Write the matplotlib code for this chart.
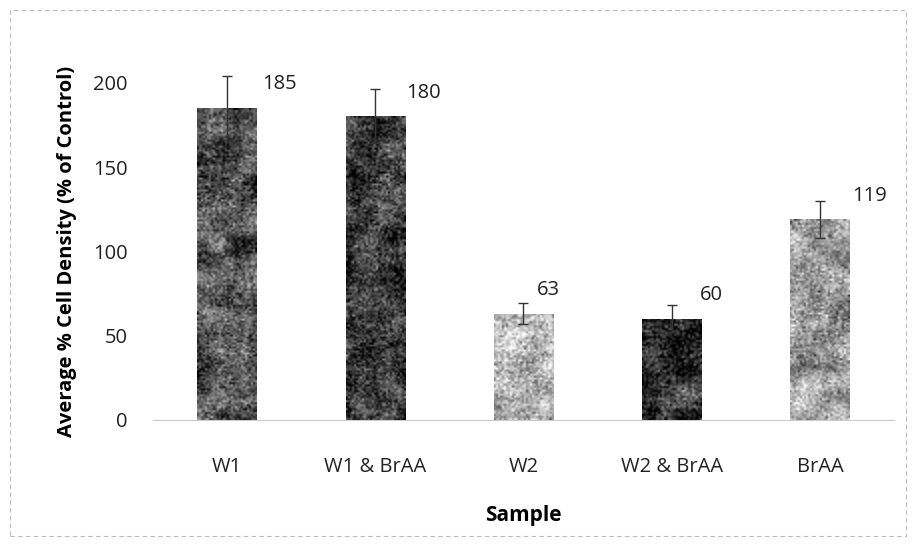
import numpy as np
import matplotlib
matplotlib.use('Agg')
import matplotlib.pyplot as plt
from matplotlib.patches import Rectangle

samples = ['W1', 'W1 & BrAA', 'W2', 'W2 & BrAA', 'BrAA']
density = [185, 180, 63, 60, 119]
errors = [19, 16, 6, 8, 11]

# base grey of each textured fill (styling only)
shades = [0.33, 0.24, 0.72, 0.17, 0.62]
# horizontal nudge of each value label (styling)
lab_dx = [0.24, 0.21, 0.09, 0.19, 0.22]

plt.rcParams['font.family'] = ['Open Sans', 'DejaVu Sans']

def blur(a, k):
	# simple box blur along both axes
	ker = np.ones(k) / k
	a = np.apply_along_axis(lambda r: np.convolve(r, ker, mode='same'), 0, a)
	a = np.apply_along_axis(lambda r: np.convolve(r, ker, mode='same'), 1, a)
	return a

fig = plt.figure(figsize=(9.16, 5.48), dpi=100)
ax = fig.add_axes([0.167, 0.234, 0.809, 0.615])

x = np.arange(len(samples))
bars = ax.bar(x, density, width=0.4, color='none', edgecolor='none', zorder=2)

# granite-like texture clipped to each bar
rng = np.random.default_rng(7)
for b, s in zip(bars, shades):
	h = max(int(b.get_height() * 1.7 / 2), 20)
	grain = rng.normal(0, 0.13, (h, 30))
	blotch = blur(rng.normal(0, 0.9, (h + 20, 50)), 11)[10:h + 10, 10:40]
	img = np.clip(s + grain + blotch, 0, 1)
	x0, y0 = b.get_x(), b.get_y()
	im = ax.imshow(img, cmap='gray', vmin=0, vmax=1, aspect='auto',
		extent=[x0, x0 + b.get_width(), y0, y0 + b.get_height()],
		interpolation='bilinear', zorder=2)
	im.set_clip_path(b)

ax.errorbar(x, density, yerr=errors, fmt='none', ecolor='#333333',
	elinewidth=1, capsize=3.5, capthick=1, zorder=3, clip_on=False)

for xi, v, dx in zip(x, density, lab_dx):
	ax.text(xi + dx, v + 14, str(v), fontsize=14.5, color='#222222',
		ha='left', va='center')

ax.set_xlim(-0.5, len(samples) - 0.5)
ax.set_ylim(0, 200)
ax.set_yticks([0, 50, 100, 150, 200])
ax.set_xticks(x)
ax.set_xticklabels(samples)
ax.tick_params(axis='both', length=0, labelsize=14.5, colors='#222222')
ax.tick_params(axis='y', pad=18)
ax.tick_params(axis='x', pad=27)
for sp in ['top', 'right', 'left']:
	ax.spines[sp].set_visible(False)
ax.spines['bottom'].set_color('#cccccc')
ax.set_xlabel('Sample', fontsize=15, fontweight='bold', labelpad=20)
ax.set_ylabel('Average % Cell Density (% of Control)', fontsize=14.5,
	fontweight='bold', labelpad=12)

# faint dashed frame round the chart
fig.patches.append(Rectangle((0.011, 0.022), 0.978, 0.96, transform=fig.transFigure,
	fill=False, edgecolor='#bbbbbb', linestyle=(0, (4, 3)), linewidth=0.8))

fig.savefig('out.png', dpi=100)
